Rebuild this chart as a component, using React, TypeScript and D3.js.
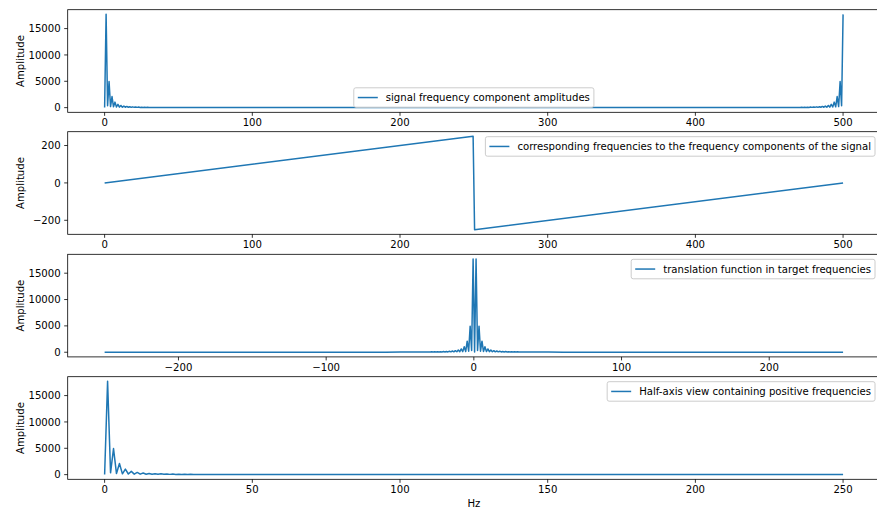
import React from 'react';
import * as d3 from 'd3';

// ---- data ----
// positive-half FFT amplitude spectrum: bin index -> amplitude
const halfBins = [0, 1, 2, 3, 4, 5, 6, 7, 8, 9, 10, 11, 12, 13, 14, 15, 16, 17, 18, 19, 20,
  21, 22, 23, 24, 25, 26, 27, 28, 29, 30, 32, 34, 36, 38, 40, 50, 60, 80, 100, 150, 200, 249, 250];
const halfAmps = [30, 17700, 350, 4950, 200, 2100, 150, 1050, 120, 620, 100, 420, 90, 300, 80, 230, 70, 180, 60, 150, 55,
  125, 50, 105, 45, 90, 42, 78, 40, 70, 38, 36, 34, 32, 30, 28, 22, 18, 14, 10, 8, 6, 5, 5];
// fftfreq values over the sample index
const freqIdx = [0, 249, 250, 499];
const freqVals = [0, 249, -250, -1];
const N = 500;

const ampTicks = [0, 5000, 10000, 15000];
const freqTicks = [-200, 0, 200];
const idxTicks = [0, 100, 200, 300, 400, 500];
const shiftTicks = [-200, -100, 0, 100, 200];
const halfTicks = [0, 50, 100, 150, 200, 250];
const legendLabels = [
  'signal frequency component amplitudes',
  'corresponding frequencies to the frequency components of the signal',
  'translation function in target frequencies',
  'Half-axis view containing positive frequencies',
];

// ---- layout ----
const W = 877, H = 510;
const LEFT = 67.7, RIGHT = 880;
const tops = [9.7, 131.7, 254.3, 376.7];
const AX_H = 102.6;
const FS = 10.15;
const FONT = '"DejaVu Sans", sans-serif';
const BLUE = '#1f77b4';

let ctx: CanvasRenderingContext2D | null = null;
function textWidth(s: string) {
  if (!ctx) ctx = document.createElement('canvas').getContext('2d');
  if (!ctx) return s.length * 5.5;
  ctx.font = `${FS}px "DejaVu Sans"`;
  return ctx.measureText(s).width;
}

const fmt = (v: number) => String(v).replace('-', '\u2212');

// derived point series
const halfPts: [number, number][] = halfBins.map((k, i) => [k, halfAmps[i]]);
const fullPts: [number, number][] = [
  ...halfPts,
  ...halfPts.filter(([k]) => k >= 1 && k <= 249).map(([k, v]) => [N - k, v] as [number, number]),
].sort((a, b) => a[0] - b[0]);
const shiftPts: [number, number][] = [
  ...halfPts.filter(([k]) => k <= 249),
  ...halfPts.filter(([k]) => k >= 1).map(([k, v]) => [-k, v] as [number, number]),
].sort((a, b) => a[0] - b[0]);
const posPts: [number, number][] = halfPts.filter(([k]) => k <= 249);

type Panel = {
  pts: [number, number][];
  xMap: (v: number) => number;
  xExt: [number, number];
  yExt: [number, number];
  xTicks: number[];
  yTicks: number[];
  legend: string;
  loc: 'lower center' | 'upper right';
};

const panels: Panel[] = [
  { pts: fullPts, xMap: (i) => i * 500 / 499, xExt: [0, 500], yExt: [0, 17700], xTicks: idxTicks, yTicks: ampTicks, legend: legendLabels[0], loc: 'lower center' },
  { pts: freqIdx.map((i, j) => [i, freqVals[j]] as [number, number]), xMap: (i) => i * 500 / 499, xExt: [0, 500], yExt: [-250, 249], xTicks: idxTicks, yTicks: freqTicks, legend: legendLabels[1], loc: 'upper right' },
  { pts: shiftPts, xMap: (f) => -250 + (f + 250) * 500 / 499, xExt: [-250, 250], yExt: [0, 17700], xTicks: shiftTicks, yTicks: ampTicks, legend: legendLabels[2], loc: 'upper right' },
  { pts: posPts, xMap: (k) => k * 250 / 249, xExt: [0, 250], yExt: [0, 17700], xTicks: halfTicks, yTicks: ampTicks, legend: legendLabels[3], loc: 'upper right' },
];

function Axes({ p, idx }: { p: Panel; idx: number }) {
  const top = tops[idx], bottom = top + AX_H;
  const xr = p.xExt[1] - p.xExt[0];
  const yr = p.yExt[1] - p.yExt[0];
  const x = d3.scaleLinear().domain([p.xExt[0] - 0.05 * xr, p.xExt[1] + 0.05 * xr]).range([LEFT, RIGHT]);
  const y = d3.scaleLinear().domain([p.yExt[0] - 0.05 * yr, p.yExt[1] + 0.05 * yr]).range([bottom, top]);
  const line = d3.line<[number, number]>().x((d) => x(p.xMap(d[0]))).y((d) => y(d[1]));
  const tw = textWidth(p.legend);
  const lw = 36 + tw, lh = 19.5;
  const lx = p.loc === 'upper right' ? RIGHT - 5 - lw : (LEFT + RIGHT) / 2 - lw / 2;
  const ly = p.loc === 'upper right' ? top + 5 : bottom - 5 - lh;
  const clipId = `clip${idx}`;
  return (
    <g>
      <defs>
        <clipPath id={clipId}>
          <rect x={LEFT} y={top} width={RIGHT - LEFT} height={AX_H} />
        </clipPath>
      </defs>
      <path d={line(p.pts) || ''} fill="none" stroke={BLUE} strokeWidth={1.5} strokeLinejoin="round" clipPath={`url(#${clipId})`} />
      <rect x={LEFT} y={top} width={RIGHT - LEFT} height={AX_H} fill="none" stroke="#000" strokeWidth={0.8} />
      {p.xTicks.map((t) => (
        <g key={`x${t}`}>
          <line x1={x(t)} x2={x(t)} y1={bottom} y2={bottom + 3.5} stroke="#000" strokeWidth={0.8} />
          <text x={x(t)} y={bottom + 14} textAnchor="middle" fontSize={FS} fontFamily={FONT} fill="#000">{fmt(t)}</text>
        </g>
      ))}
      {p.yTicks.map((t) => (
        <g key={`y${t}`}>
          <line x1={LEFT - 3.5} x2={LEFT} y1={y(t)} y2={y(t)} stroke="#000" strokeWidth={0.8} />
          <text x={LEFT - 7} y={y(t) + 3.6} textAnchor="end" fontSize={FS} fontFamily={FONT} fill="#000">{fmt(t)}</text>
        </g>
      ))}
      <text transform={`translate(${23.5},${(top + bottom) / 2}) rotate(-90)`} textAnchor="middle" fontSize={FS} fontFamily={FONT} fill="#000">Amplitude</text>
      <rect x={lx} y={ly} width={lw} height={lh} rx={2} fill="#fff" fillOpacity={0.8} stroke="#cccccc" strokeWidth={1} />
      <line x1={lx + 4} x2={lx + 24} y1={ly + lh / 2} y2={ly + lh / 2} stroke={BLUE} strokeWidth={1.5} />
      <text x={lx + 32} y={ly + lh / 2 + 3.6} fontSize={FS} fontFamily={FONT} fill="#000">{p.legend}</text>
    </g>
  );
}

export default function App() {
  return (
    <svg width={W} height={H} style={{ display: 'block', position: 'absolute', left: 0, top: 0 }}>
      <rect width={W} height={H} fill="#fff" />
      {panels.map((p, i) => <Axes key={i} p={p} idx={i} />)}
      <text x={(LEFT + RIGHT) / 2} y={507} textAnchor="middle" fontSize={FS} fontFamily={FONT} fill="#000">Hz</text>
    </svg>
  );
}
